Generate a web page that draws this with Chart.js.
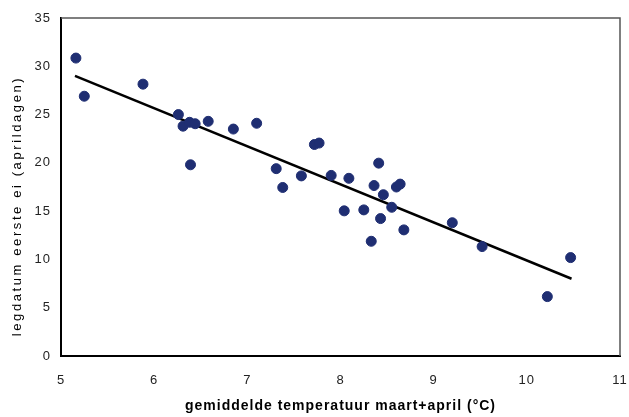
<!DOCTYPE html>
<html>
<head>
<meta charset="utf-8">
<script src="https://cdn.jsdelivr.net/npm/chart.js@4"></script>
<style>
  html, body { margin:0; padding:0; background:#fff; }
  #wrap { width:629px; height:417px; }
</style>
</head>
<body>
<div id="wrap"><canvas id="chart" width="629" height="417"></canvas></div>
<script>
// gemiddelde temperatuur maart+april (°C) vs legdatum eerste ei (aprildagen)
const tempX = [5.16, 5.25, 5.88, 6.26, 6.31, 6.38, 6.44, 6.39, 6.58, 6.85, 7.10, 7.31, 7.38, 7.58,
               7.72, 7.77, 7.90, 8.09, 8.41, 8.36, 8.46, 8.60, 8.64, 8.04, 8.25, 8.43, 8.55, 8.33,
               8.68, 9.20, 9.52, 10.22, 10.47];
const legY  = [30.85, 26.9, 28.15, 25.0, 23.8, 24.2, 24.05, 19.8, 24.3, 23.5, 24.1, 19.4, 17.45, 18.65,
               21.9, 22.05, 18.7, 18.4, 19.97, 17.65, 16.7, 17.5, 17.8, 15.03, 15.13, 14.23, 15.4, 11.88,
               13.06, 13.8, 11.33, 6.15, 10.19];
// trendline end points
const trendX = [5.15, 10.48];
const trendY = [29.0, 8.0];

const xTicks = [5, 6, 7, 8, 9, 10, 11];
const yTicks = [0, 5, 10, 15, 20, 25, 30, 35];
const yTitle = 'legdatum eerste ei (aprildagen)';

// grey frame on top/right + spaced y title
const frame = {
  id: 'frame',
  beforeDraw(c){ c.ctx.letterSpacing = '1px'; },
  beforeDatasetsDraw(c){ c.ctx.letterSpacing = '0px'; },
  afterDraw(c){
    const a = c.chartArea, ctx = c.ctx;
    ctx.save();
    ctx.strokeStyle = '#555';
    ctx.lineWidth = 1.5;
    ctx.beginPath();
    ctx.moveTo(a.left, a.top);
    ctx.lineTo(a.right, a.top);
    ctx.lineTo(a.right, a.bottom);
    ctx.stroke();
    // y title
    ctx.translate(17, 206);
    ctx.rotate(-Math.PI/2);
    ctx.letterSpacing = '2.6px';
    ctx.font = '13px "Liberation Sans"';
    ctx.fillStyle = '#000';
    ctx.textAlign = 'center';
    ctx.textBaseline = 'middle';
    ctx.fillText(yTitle, 0, 0);
    ctx.restore();
  }
};

new Chart(document.getElementById('chart'), {
  type: 'scatter',
  data: {
    datasets: [
      {
        data: tempX.map((x,i)=>({x:x, y:legY[i]})),
        backgroundColor: '#1f2e72',
        borderColor: '#1f2e72',
        pointRadius: 5,
        pointHoverRadius: 5
      },
      {
        type: 'line',
        data: trendX.map((x,i)=>({x:x, y:trendY[i]})),
        borderColor: '#000',
        borderWidth: 2.5,
        pointRadius: 0,
        fill: false
      }
    ]
  },
  options: {
    responsive: false,
    animation: false,
    layout: { padding: { left: 4, right: 9, top: 18, bottom: 2 } },
    plugins: { legend: { display: false }, tooltip: { enabled: false } },
    scales: {
      x: {
        type: 'linear', min: 5, max: 11,
        afterBuildTicks: s => { s.ticks = xTicks.map(v=>({value:v})); },
        grid: { display: false, drawOnChartArea: false, drawTicks: true, tickLength: 5, tickColor: '#000' },
        border: { color: '#000', width: 2 },
        ticks: { color: '#222', font: { family: 'Liberation Sans', size: 13 }, padding: 12 },
        title: { display: true, text: 'gemiddelde temperatuur maart+april (°C)', color: '#000',
                 font: { family: 'Liberation Sans', size: 14, weight: 'bold' }, padding: { top: 9, bottom: 0 } },
        afterFit: s => { s.height = 59; s.paddingRight = 0; s.paddingLeft = 0; }
      },
      y: {
        type: 'linear', min: 0, max: 35,
        afterBuildTicks: s => { s.ticks = yTicks.map(v=>({value:v})); },
        grid: { display: false, drawOnChartArea: false, drawTicks: true, tickLength: 5, tickColor: '#000' },
        border: { color: '#000', width: 2 },
        ticks: { color: '#222', font: { family: 'Liberation Sans', size: 13 }, padding: 5 },
        title: { display: false },
        afterFit: s => { s.width = 57; s.paddingTop = 0; s.paddingBottom = 0; }
      }
    }
  },
  plugins: [frame]
});
</script>
</body>
</html>
